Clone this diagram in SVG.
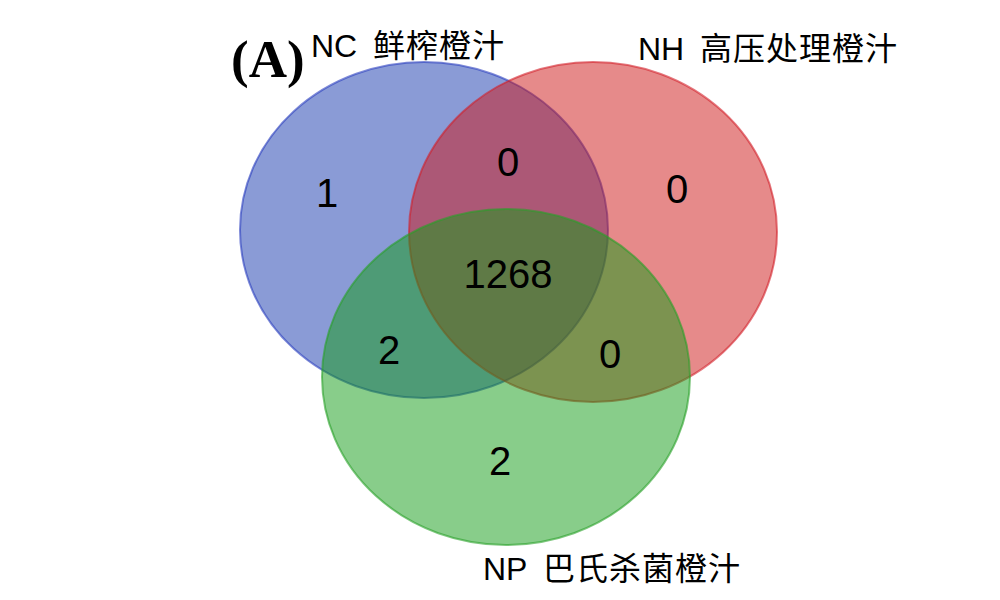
<svg xmlns="http://www.w3.org/2000/svg" width="1000" height="600" viewBox="0 0 1000 600">
<style>
.set{stroke-width:2;}
.num{font-family:"Liberation Sans",Arial,sans-serif;font-size:40px;fill:#000;text-anchor:middle;}
.lat{font-family:"Liberation Sans",Arial,sans-serif;font-size:32px;fill:#000;}
.cjk{font-family:"Noto Sans CJK SC","Noto Sans CJK JP",sans-serif;font-size:32px;letter-spacing:1px;fill:#000;}
</style>
<rect width="1000" height="600" fill="#fff"/>
<g id="NC"><ellipse class="set" cx="424" cy="230" rx="184" ry="168" fill="rgba(21,55,173,0.5)" stroke="rgba(40,60,190,0.6)"/></g>
<g id="NH"><ellipse class="set" cx="593" cy="232" rx="184" ry="170" fill="rgba(205,21,21,0.5)" stroke="rgba(210,30,40,0.6)"/></g>
<g id="NP"><ellipse class="set" cx="506" cy="377" rx="184" ry="168" fill="rgba(17,155,21,0.5)" stroke="rgba(40,160,40,0.6)"/></g>
<g id="counts">
<text class="num" x="327" y="207">1</text>
<text class="num" x="508" y="176">0</text>
<text class="num" x="677" y="203">0</text>
<text class="num" x="508" y="288">1268</text>
<text class="num" x="389" y="364">2</text>
<text class="num" x="610" y="368">0</text>
<text class="num" x="500" y="475">2</text>
</g>
<g id="labels">
<text x="231" y="77" font-family="Liberation Serif,'Times New Roman',serif" font-weight="bold" font-size="53">(A)</text>
<text y="57"><tspan class="lat" x="311">NC</tspan><tspan class="cjk" x="373">鲜榨橙汁</tspan></text>
<text y="60"><tspan class="lat" x="638">NH</tspan><tspan class="cjk" x="700">高压处理橙汁</tspan></text>
<text y="580"><tspan class="lat" x="483">NP</tspan><tspan class="cjk" x="543">巴氏杀菌橙汁</tspan></text>
</g>
</svg>
